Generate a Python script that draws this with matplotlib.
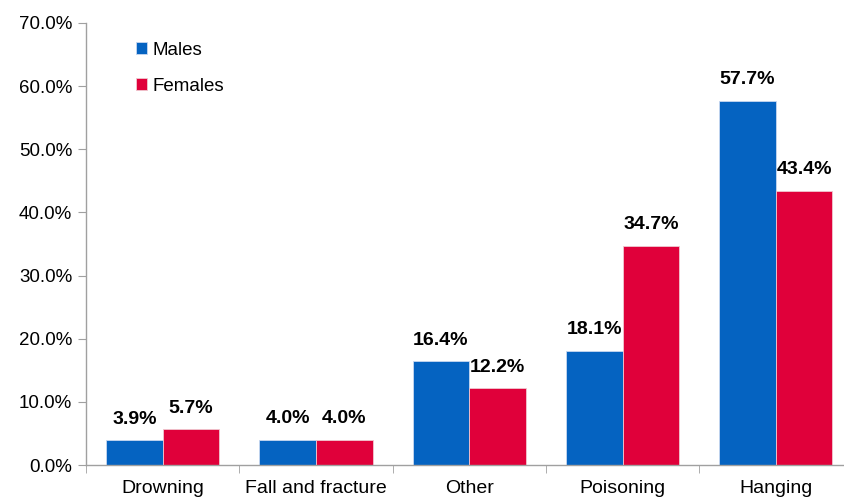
import matplotlib
matplotlib.use("Agg")
import matplotlib.pyplot as plt
import numpy as np

categories = ["Drowning", "Fall and fracture", "Other", "Poisoning", "Hanging"]
males = [3.9, 4.0, 16.4, 18.1, 57.7]
females = [5.7, 4.0, 12.2, 34.7, 43.4]
yticks = [0, 10, 20, 30, 40, 50, 60, 70]

plt.rcParams['font.family'] = ['Liberation Sans', 'DejaVu Sans']

fig = plt.figure(figsize=(8.44, 4.99), dpi=100)
ax = fig.add_axes([0.1019, 0.068, 0.9082, 0.886])

blue = "#0563C1"
red = "#E0003A"
x = np.arange(len(categories))
w = 0.369
b1 = ax.bar(x - w/2, males, w, color=blue, edgecolor="#c8d8f0", linewidth=0.6, label="Males")
b2 = ax.bar(x + w/2, females, w, color=red, edgecolor="#f0c8d0", linewidth=0.6, label="Females")

for bars, vals in ((b1, males), (b2, females)):
    for r, v in zip(bars, vals):
        ax.annotate(f"{v:.1f}%", (r.get_x() + r.get_width()/2, v),
                    xytext=(0, 9), textcoords="offset points",
                    ha="center", va="bottom", fontsize=14, fontweight="bold", color="black")

ax.set_xlim(-0.5, len(categories) - 0.5)
ax.set_ylim(0, 70)
ax.set_yticks(yticks)
ax.set_yticklabels([f"{t:.1f}%" for t in yticks], fontsize=13.5)
ax.set_xticks(x)
ax.set_xticklabels(categories, fontsize=14)
ax.set_xticks(np.arange(len(categories) + 1) - 0.5, minor=True)
ax.tick_params(axis="x", which="major", length=0, pad=11)
ax.tick_params(axis="x", which="minor", length=6, color="#a0a0a0", direction="out")
ax.tick_params(axis="y", length=6, color="#a0a0a0", direction="out", pad=4)

for s in ("top", "right"):
    ax.spines[s].set_visible(False)
for s in ("left", "bottom"):
    ax.spines[s].set_color("#a0a0a0")
    ax.spines[s].set_linewidth(1)

leg = ax.legend(loc="upper left", bbox_to_anchor=(0.043, 0.995), frameon=False, fontsize=13.5,
                handlelength=0.6, handleheight=0.6, handletextpad=0.3, labelspacing=1.0)

fig.savefig("out.png", dpi=100)
